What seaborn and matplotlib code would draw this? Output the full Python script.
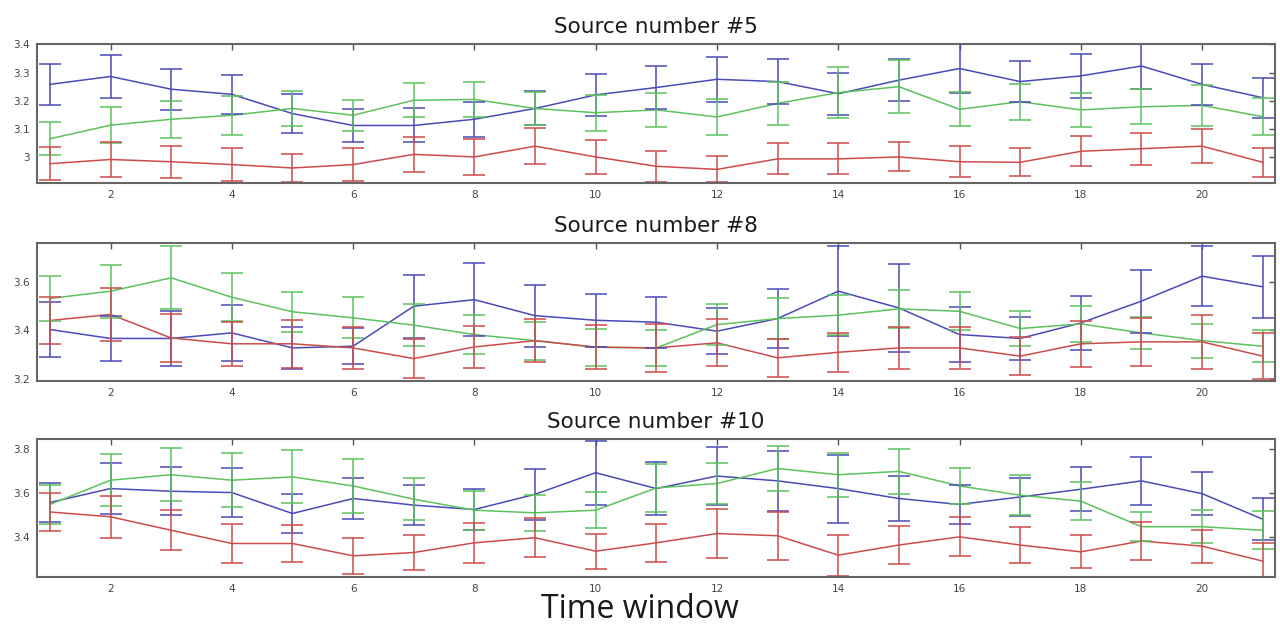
import numpy as np
import pandas as pd
import seaborn as sns
import matplotlib.pyplot as plt

# Time windows 1..21
windows = list(range(1, 22))

# Source #5 (means and half-widths of error bars)
s5_blue = [3.258, 3.286, 3.241, 3.223, 3.155, 3.113, 3.113, 3.135, 3.173, 3.221, 3.247,
           3.276, 3.268, 3.225, 3.273, 3.314, 3.268, 3.288, 3.323, 3.258, 3.211]
s5_blue_err = [0.073, 0.075, 0.072, 0.068, 0.068, 0.059, 0.06, 0.062, 0.06, 0.074, 0.075,
               0.08, 0.08, 0.075, 0.075, 0.085, 0.072, 0.077, 0.082, 0.073, 0.07]
s5_green = [3.066, 3.114, 3.135, 3.149, 3.173, 3.149, 3.202, 3.205, 3.173, 3.158, 3.168,
            3.143, 3.191, 3.229, 3.250, 3.170, 3.197, 3.168, 3.179, 3.184, 3.144]
s5_green_err = [0.058, 0.064, 0.065, 0.068, 0.063, 0.054, 0.06, 0.063, 0.059, 0.064, 0.06,
                0.063, 0.077, 0.09, 0.093, 0.06, 0.063, 0.06, 0.062, 0.072, 0.065]
s5_red = [2.978, 2.993, 2.985, 2.975, 2.963, 2.975, 3.011, 3.002, 3.040, 3.002, 2.969,
          2.958, 2.995, 2.995, 3.002, 2.985, 2.983, 3.022, 3.031, 3.040, 2.983]
s5_red_err = [0.058, 0.063, 0.057, 0.057, 0.05, 0.058, 0.062, 0.063, 0.064, 0.059, 0.054,
              0.046, 0.055, 0.055, 0.051, 0.054, 0.05, 0.053, 0.056, 0.06, 0.052]

# Source #8
s8_blue = [3.403, 3.366, 3.366, 3.389, 3.327, 3.334, 3.499, 3.526, 3.460, 3.441, 3.433,
           3.396, 3.448, 3.561, 3.492, 3.382, 3.366, 3.430, 3.520, 3.623, 3.579]
s8_blue_err = [0.113, 0.093, 0.113, 0.115, 0.085, 0.075, 0.13, 0.15, 0.128, 0.11, 0.105,
               0.095, 0.12, 0.185, 0.18, 0.113, 0.09, 0.11, 0.13, 0.125, 0.127]
s8_green = [3.531, 3.561, 3.616, 3.536, 3.476, 3.451, 3.421, 3.382, 3.357, 3.330, 3.327,
            3.423, 3.448, 3.462, 3.488, 3.478, 3.407, 3.426, 3.389, 3.357, 3.334]
s8_green_err = [0.094, 0.11, 0.13, 0.098, 0.083, 0.084, 0.086, 0.08, 0.078, 0.076, 0.073,
                0.085, 0.086, 0.083, 0.079, 0.078, 0.073, 0.074, 0.067, 0.07, 0.067]
s8_red = [3.440, 3.465, 3.368, 3.344, 3.344, 3.327, 3.283, 3.331, 3.357, 3.330, 3.327,
          3.348, 3.286, 3.309, 3.327, 3.327, 3.293, 3.344, 3.352, 3.352, 3.293]
s8_red_err = [0.096, 0.11, 0.1, 0.09, 0.1, 0.085, 0.08, 0.085, 0.09, 0.09, 0.1,
              0.097, 0.078, 0.08, 0.085, 0.085, 0.077, 0.094, 0.1, 0.11, 0.096]

# Source #10
s10_blue = [3.556, 3.619, 3.607, 3.601, 3.506, 3.574, 3.544, 3.524, 3.593, 3.691, 3.619,
            3.676, 3.654, 3.619, 3.574, 3.547, 3.581, 3.616, 3.654, 3.596, 3.480]
s10_blue_err = [0.09, 0.115, 0.11, 0.11, 0.087, 0.095, 0.09, 0.093, 0.117, 0.145, 0.12,
                0.13, 0.135, 0.154, 0.1, 0.087, 0.088, 0.1, 0.108, 0.097, 0.095]
s10_green = [3.547, 3.657, 3.682, 3.657, 3.672, 3.631, 3.571, 3.521, 3.509, 3.521, 3.622,
             3.642, 3.710, 3.682, 3.697, 3.631, 3.589, 3.562, 3.446, 3.446, 3.430]
s10_green_err = [0.09, 0.117, 0.12, 0.123, 0.12, 0.121, 0.096, 0.088, 0.083, 0.083, 0.108,
                 0.095, 0.102, 0.1, 0.101, 0.083, 0.092, 0.087, 0.066, 0.076, 0.087]
s10_red = [3.513, 3.491, 3.430, 3.370, 3.370, 3.314, 3.329, 3.373, 3.396, 3.335, 3.373,
           3.415, 3.405, 3.317, 3.363, 3.400, 3.363, 3.332, 3.381, 3.358, 3.290]
s10_red_err = [0.087, 0.094, 0.09, 0.089, 0.085, 0.083, 0.08, 0.09, 0.088, 0.079, 0.085,
               0.111, 0.109, 0.093, 0.087, 0.088, 0.08, 0.075, 0.085, 0.075, 0.083]

titles = ['Source number #5', 'Source number #8', 'Source number #10']
y_limits = [(2.91, 3.40), (3.19, 3.76), (3.218, 3.842)]
y_ticks = [[3.0, 3.1, 3.2, 3.3, 3.4], [3.2, 3.4, 3.6], [3.4, 3.6, 3.8]]
y_ticklabels = [['3', '3.1', '3.2', '3.3', '3.4'], ['3.2', '3.4', '3.6'], ['3.4', '3.6', '3.8']]
x_ticks = list(range(2, 21, 2))

colors = {'blue': '#4a4ab8', 'green': '#5cc25c', 'red': '#cc4c4c'}

panels = [
    {'blue': (s5_blue, s5_blue_err), 'green': (s5_green, s5_green_err), 'red': (s5_red, s5_red_err)},
    {'blue': (s8_blue, s8_blue_err), 'green': (s8_green, s8_green_err), 'red': (s8_red, s8_red_err)},
    {'blue': (s10_blue, s10_blue_err), 'green': (s10_green, s10_green_err), 'red': (s10_red, s10_red_err)},
]

sns.set_style('white')
plt.rcParams['font.family'] = ['DejaVu Sans']

fig = plt.figure(figsize=(12.8, 6.31), dpi=100)

# axes boxes in figure fraction: left, bottom, width, height
boxes = [(0.029, 0.710, 0.967, 0.220),
         (0.029, 0.396, 0.967, 0.219),
         (0.029, 0.0856, 0.967, 0.218)]

for i, panel in enumerate(panels):
    ax = fig.add_axes(boxes[i])
    rows = []
    for name, (means, errs) in panel.items():
        for w, m, e in zip(windows, means, errs):
            rows.append({'window': w, 'value': m, 'err': e, 'series': name})
    df = pd.DataFrame(rows)

    sns.lineplot(data=df, x='window', y='value', hue='series', palette=colors,
                 linewidth=1.1, legend=False, ax=ax, estimator=None)
    for name in panel:
        sub = df[df['series'] == name]
        ax.errorbar(sub['window'], sub['value'], yerr=sub['err'], fmt='none',
                    ecolor=colors[name], elinewidth=1.1, capsize=8, capthick=1.1)

    ax.set_xlim(0.79, 21.2)
    ax.set_ylim(*y_limits[i])
    ax.set_xticks(x_ticks)
    ax.set_xticklabels([str(t) for t in x_ticks])
    ax.set_yticks(y_ticks[i])
    ax.set_yticklabels(y_ticklabels[i])
    ax.tick_params(direction='in', top=True, right=True, length=4, width=1,
                   color='#555555', labelsize=7.5, labelcolor='#444444', pad=5)
    ax.set_xlabel('')
    ax.set_ylabel('')
    for s in ax.spines.values():
        s.set_color('#666666')
        s.set_linewidth(1.5)
    ax.set_title(titles[i], fontsize=15.5, pad=8, color='#1a1a1a')

fig.text(0.5, 0.02, 'Time window', ha='center', va='baseline', fontsize=23,
         color='#1a1a1a', family=['Open Sans', 'DejaVu Sans'])

plt.savefig('out.png', dpi=100)
plt.close()
